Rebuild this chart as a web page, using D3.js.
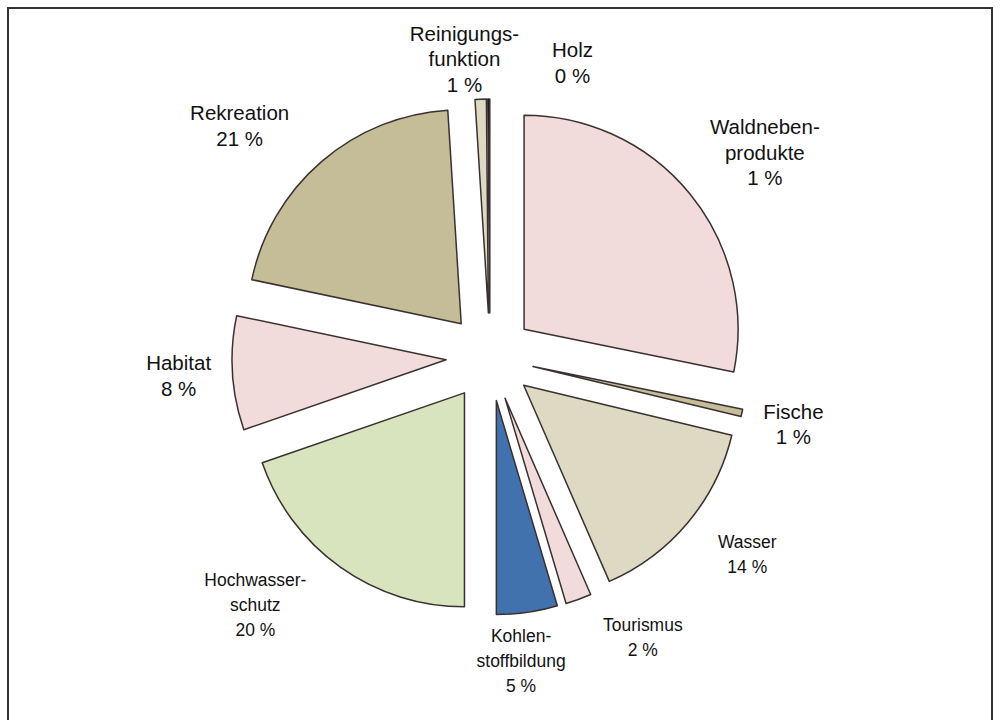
<!DOCTYPE html>
<html>
<head>
<meta charset="utf-8">
<script src="https://cdn.jsdelivr.net/npm/d3@7"></script>
<style>
  body { margin: 0; background: #fff; }
  svg { display: block; font-family: "Liberation Sans", Arial, sans-serif; }
  .lbl { fill: #111; font-size: 20.5px; text-anchor: middle; }
  .narrow { font-size: 19px; }
</style>
</head>
<body>
<div id="chart"></div>
<script>
// slice order clockwise from 12 o'clock
const categories = ['Waldnebenprodukte', 'Fische', 'Wasser', 'Tourismus', 'Kohlenstoffbildung',
  'Hochwasserschutz', 'Habitat', 'Rekreation', 'Reinigungsfunktion', 'Holz'];
// slice shares as drawn (percent of the circle)
const shares = [28.2, 0.55, 14.7, 1.95, 4.6, 19.7, 8.6, 20.7, 0.85, 0.15];
// label texts as printed on the chart
const labelLines = [
  ['Waldneben-', 'produkte', '1 %'],
  ['Fische', '1 %'],
  ['Wasser', '14 %'],
  ['Tourismus', '2 %'],
  ['Kohlen-', 'stoffbildung', '5 %'],
  ['Hochwasser-', 'schutz', '20 %'],
  ['Habitat', '8 %'],
  ['Rekreation', '21 %'],
  ['Reinigungs-', 'funktion', '1 %'],
  ['Holz', '0 %']
];
const colors = ['#f2dcdb', '#c4bd97', '#ddd9c3', '#f2dcdb', '#4272ad',
  '#d7e4bd', '#f2dcdb', '#c4bd97', '#ddd9c3', '#000000'];

const width = 1001;
const height = 720;
const cx = 490, cy = 357;
const radius = 214;
const explode = 44;
const labelRadius = 320;
// hand placement of the labels, nudged from the label ring
const labelNudge = [[27, 5], [-9, 5], [12, -2], [43, -14], [-15, -7],
  [-49, -7], [8, 6], [-41, 18], [-14, 29], [84, 33]];
const narrow = new Set(['Wasser', 'Tourismus', 'Kohlenstoffbildung', 'Hochwasserschutz']);

const svg = d3.select('#chart')
  .append('svg')
  .attr('width', width)
  .attr('height', height);

// frame
svg.append('path')
  .attr('d', 'M8,760V8H992V760')
  .attr('fill', 'none')
  .attr('stroke', '#333')
  .attr('stroke-width', 2);

const pie = d3.pie().sort(null).value(d => d);
const arcs = pie(shares);
const arc = d3.arc().innerRadius(0).outerRadius(radius);

const g = svg.append('g').attr('transform', `translate(${cx},${cy})`);

g.selectAll('path.slice')
  .data(arcs)
  .enter()
  .append('path')
  .attr('class', 'slice')
  .attr('d', arc)
  .attr('transform', d => {
    const a = (d.startAngle + d.endAngle) / 2;
    return `translate(${explode * Math.sin(a)},${-explode * Math.cos(a)})`;
  })
  .attr('fill', (d, i) => colors[i])
  .attr('stroke', '#3a3030')
  .attr('stroke-width', 1.5)
  .attr('stroke-linejoin', 'round');

const labels = g.selectAll('g.label')
  .data(arcs)
  .enter()
  .append('g')
  .attr('class', 'label')
  .attr('transform', (d, i) => {
    const a = (d.startAngle + d.endAngle) / 2;
    const x = labelRadius * Math.sin(a) + labelNudge[i][0];
    const y = -labelRadius * Math.cos(a) + labelNudge[i][1];
    const s = narrow.has(categories[i]) ? 0.92 : 1;
    return `translate(${x},${y}) scale(${s},1)`;
  });

labels.each(function(d, i) {
  const lines = labelLines[i];
  const isNarrow = narrow.has(categories[i]);
  const lh = isNarrow ? 25 : 25.5;
  d3.select(this).selectAll('text')
    .data(lines)
    .enter()
    .append('text')
    .attr('class', isNarrow ? 'lbl narrow' : 'lbl')
    .attr('x', 0)
    .attr('y', (t, j) => (j - (lines.length - 1) / 2) * lh)
    .text(t => t);
});
</script>
</body>
</html>
